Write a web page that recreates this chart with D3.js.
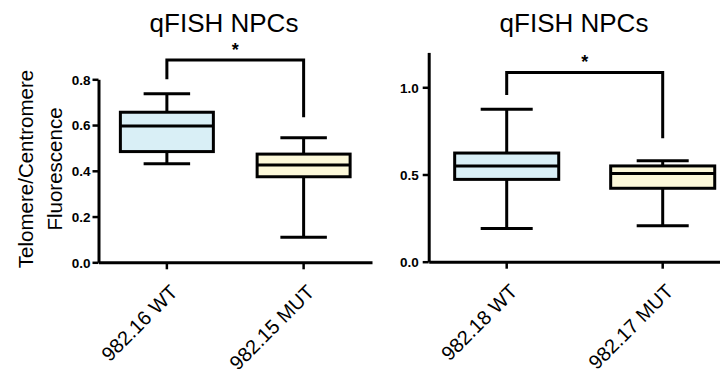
<!DOCTYPE html>
<html><head><meta charset="utf-8">
<script src="https://cdn.jsdelivr.net/npm/d3@7"></script>
<style>
html,body{margin:0;padding:0;background:#fff;}
svg{display:block;font-family:"Liberation Sans",Arial,sans-serif;}
</style></head>
<body><svg id="c" width="720" height="379"></svg>
<script>
// ---- data ----
const titles = ["qFISH NPCs", "qFISH NPCs"];
const yLabelLines = ["Telomere/Centromere", "Fluorescence"];
const categoriesA = ["982.16 WT", "982.15 MUT"];
const categoriesB = ["982.18 WT", "982.17 MUT"];
// [whiskerLow, Q1, median, Q3, whiskerHigh]
const boxesA = [[0.431, 0.484, 0.596, 0.656, 0.737], [0.109, 0.374, 0.425, 0.473, 0.545]];
const boxesB = [[0.191, 0.472, 0.549, 0.623, 0.874], [0.206, 0.421, 0.505, 0.549, 0.579]];
const ticksA = [0, 0.2, 0.4, 0.6, 0.8];
const ticksB = [0, 0.5, 1.0];
const domainA = [0, 0.8];
const domainB = [0, 1.2];
// significance bracket: [barLevel, leftLegEnd, rightLegEnd]
const sigA = [0.884, 0.80, 0.634];
const sigB = [1.085, 0.956, 0.708];
const sigLabel = "*";
const fills = ["#d9eff6", "#fcf8d9"];

const svg = d3.select("#c");

function panel(cfg) {
  const g = svg.append("g");
  const x = d3.scaleBand().domain(cfg.cats).range([cfg.x0, cfg.x1]).padding(0);
  const y = d3.scaleLinear().domain(cfg.domain).range([cfg.yBottom, cfg.yTop]);
  const bw = x.bandwidth() * cfg.boxFrac;
  const cx = c => x(c) + x.bandwidth() / 2;

  // y axis
  const ya = g.append("g").attr("transform", `translate(${cfg.x0},0)`)
    .call(d3.axisLeft(y).tickValues(cfg.ticks).tickFormat(d3.format(".1f")).tickSize(6).tickSizeOuter(0));
  ya.select(".domain").attr("stroke-width", 3).attr("stroke", "#000");
  ya.selectAll(".tick line").attr("stroke-width", 2.5).attr("stroke", "#000");
  ya.selectAll(".tick text").attr("font-size", 13.5).attr("font-weight", "bold").attr("fill", "#000")
    .attr("font-family", "Liberation Sans, Arial, sans-serif").attr("x", cfg.labelGap).attr("dy", "0.36em");

  // x axis
  const xa = g.append("g").attr("transform", `translate(0,${cfg.yBottom})`)
    .call(d3.axisBottom(x).tickSize(7).tickSizeOuter(0));
  xa.select(".domain").attr("stroke-width", 3).attr("stroke", "#000");
  xa.selectAll(".tick line").attr("stroke-width", 2.5).attr("stroke", "#000");
  xa.selectAll(".tick text").attr("font-size", 20).attr("fill", "#000")
    .attr("font-family", "Liberation Sans, Arial, sans-serif")
    .attr("text-anchor", "end").attr("y", 0).attr("dy", 0)
    .attr("transform", "translate(12,31) rotate(-45)");

  // boxes
  cfg.cats.forEach((c, i) => {
    const b = cfg.boxes[i];
    const xc = cx(c);
    const bg = g.append("g").attr("stroke", "#000").attr("stroke-width", 3);
    bg.append("line").attr("x1", xc).attr("x2", xc).attr("y1", y(b[0])).attr("y2", y(b[1]));
    bg.append("line").attr("x1", xc).attr("x2", xc).attr("y1", y(b[3])).attr("y2", y(b[4]));
    bg.append("line").attr("x1", xc - bw / 4).attr("x2", xc + bw / 4).attr("y1", y(b[0])).attr("y2", y(b[0]));
    bg.append("line").attr("x1", xc - bw / 4).attr("x2", xc + bw / 4).attr("y1", y(b[4])).attr("y2", y(b[4]));
    bg.append("rect").attr("x", xc - bw / 2).attr("width", bw)
      .attr("y", y(b[3])).attr("height", y(b[1]) - y(b[3])).attr("fill", fills[i]);
    bg.append("line").attr("x1", xc - bw / 2).attr("x2", xc + bw / 2).attr("y1", y(b[2])).attr("y2", y(b[2]));
  });

  // significance bracket
  const xl = cx(cfg.cats[0]), xr = cx(cfg.cats[1]);
  g.append("path")
    .attr("d", `M${xl},${y(cfg.sig[1])}V${y(cfg.sig[0])}H${xr}V${y(cfg.sig[2])}`)
    .attr("fill", "none").attr("stroke", "#000").attr("stroke-width", 3);
  g.append("text").attr("x", (xl + xr) / 2).attr("y", y(cfg.sig[0]) - 4)
    .attr("text-anchor", "middle").attr("font-size", 18).attr("font-weight", "bold").text(sigLabel);

  // title
  g.append("text").attr("x", cfg.titleX).attr("y", 32).attr("text-anchor", "middle")
    .attr("font-size", 26).attr("fill", "#000").text(cfg.title);
}

panel({cats: categoriesA, boxes: boxesA, domain: domainA, ticks: ticksA, sig: sigA,
  x0: 98.5, x1: 372, yBottom: 262.3, yTop: 79.3, boxFrac: 0.68, labelGap: -8,
  title: titles[0], titleX: 224});
panel({cats: categoriesB, boxes: boxesB, domain: domainB, ticks: ticksB, sig: sigB,
  x0: 428.7, x1: 740.7, yBottom: 261.7, yTop: 52.4, boxFrac: 0.667, labelGap: -10,
  title: titles[1], titleX: 574});

// y label
const yl = svg.append("text").attr("transform", "translate(33,169) rotate(-90)")
  .attr("text-anchor", "middle").attr("font-size", 20.5).attr("fill", "#000");
yLabelLines.forEach((t, i) => yl.append("tspan").attr("x", 0).attr("dy", i ? 28.5 : 0).text(t));
</script></body></html>
